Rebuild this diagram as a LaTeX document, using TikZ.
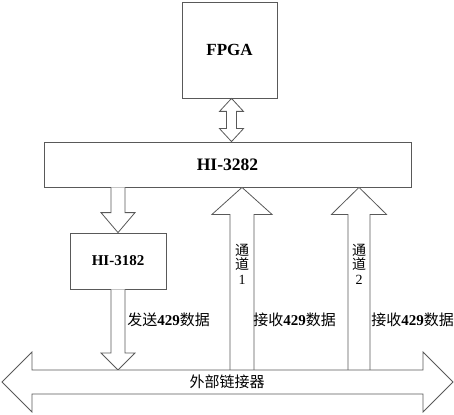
\documentclass[tikz,border=0pt]{standalone}
\usepackage{fontspec}
\setmainfont{Liberation Serif}
\newfontfamily\cjk{Noto Sans CJK SC}
\usetikzlibrary{calc}
\begin{document}
\begin{tikzpicture}[x=1pt,y=-1pt,line width=0.8pt,
  box/.style={draw=black!65,fill=white,inner sep=0pt},
  fat/.style={draw=black!65,fill=white,line join=miter},
  lbl/.style={font=\fontsize{15}{17}\selectfont,inner sep=0pt,anchor=west},
  chl/.style={font=\fontsize{14}{14.5}\selectfont,inner sep=0pt,align=center}]
\useasboundingbox (0,0) rectangle (454,414);
% boxes
\node[box,minimum width=95pt,minimum height=96pt,font=\fontsize{17}{20}\selectfont\bfseries] (fpga) at (229.5,50) {FPGA};
\node[box,minimum width=367pt,minimum height=45pt,font=\fontsize{17.5}{20}\selectfont\bfseries] (h3282) at (227.5,164.5) {HI-3282};
\node[box,minimum width=96pt,minimum height=56pt,font=\fontsize{15}{18}\selectfont\bfseries] (h3182) at (118,261) {HI-3182};
\coordinate (busL) at (2,382);
\coordinate (busR) at (453,382);
\coordinate (busTop) at (227,370);
\coordinate (c1) at (242,264);
\coordinate (c2) at (359,264);
% FPGA <-> HI-3282
\draw[fat] let \p1=(fpga.south), \p2=($(fpga.south|-h3282.north)$) in
  ($(\x1,\y1)+(2,0)$) -- ($(\x1,\y1)+(14,13)$) -- ($(\x1,\y1)+(7,13)$) -- ($(\x2,\y2)+(7,-13)$) -- ($(\x2,\y2)+(14,-13)$) -- ($(\x2,\y2)+(2,0)$)
  -- ($(\x2,\y2)+(-10,-13)$) -- ($(\x2,\y2)+(-3,-13)$) -- ($(\x1,\y1)+(-3,13)$) -- ($(\x1,\y1)+(-10,13)$) -- cycle;
% HI-3282 -> HI-3182
\draw[fat] let \p1=($(h3182.north|-h3282.south)$), \p2=(h3182.north) in
  (\x1-7pt,\y1) -- (\x1-7pt,\y2+20pt) -- (\x1-17pt,\y2+20pt) -- (\x2,\y2) -- (\x1+17pt,\y2+20pt) -- (\x1+7pt,\y2+20pt) -- (\x1+7pt,\y1);
% HI-3182 -> bus
\draw[fat] let \p1=(h3182.south), \p2=($(h3182.south|-busTop)$) in
  (\x1-7pt,\y1) -- (\x1-7pt,\y2+17pt) -- (\x1-17pt,\y2+17pt) -- (\x2,\y2) -- (\x1+17pt,\y2+17pt) -- (\x1+7pt,\y2+17pt) -- (\x1+7pt,\y1);
% bus -> HI-3282 channel 1
\draw[fat] let \p1=($(c1|-busTop)$), \p2=($(c1|-h3282.south)$) in
  (\x1-12pt,\y1) -- (\x1-12pt,\y2-27pt) -- (\x1-30pt,\y2-27pt) -- (\x2,\y2) -- (\x1+30pt,\y2-27pt) -- (\x1+12pt,\y2-27pt) -- (\x1+12pt,\y1);
% bus -> HI-3282 channel 2
\draw[fat] let \p1=($(c2|-busTop)$), \p2=($(c2|-h3282.south)$) in
  (\x1-11pt,\y1) -- (\x1-11pt,\y2-27pt) -- (\x1-27.5pt,\y2-27pt) -- (\x2,\y2) -- (\x1+27.5pt,\y2-27pt) -- (\x1+11pt,\y2-27pt) -- (\x1+11pt,\y1);
\node[chl] (ch1) at (c1) {{\cjk 通}\\{\cjk 道}\\1};
\node[chl] (ch2) at (c2) {{\cjk 通}\\{\cjk 道}\\2};
% bus
\draw[fat] let \p1=(busL), \p2=(busR) in
  (\x1,\y1) -- (\x1+30pt,\y1+30pt) -- (\x1+30pt,\y1+12pt) -- (\x2-30pt,\y1+12pt) -- (\x2-30pt,\y1+30pt) -- (\x2,\y2)
  -- (\x2-30pt,\y1-30pt) -- (\x2-30pt,\y1-12pt) -- (\x1+30pt,\y1-12pt) -- (\x1+30pt,\y1-30pt) -- cycle;
\node[font=\fontsize{15}{17}\selectfont\cjk,inner sep=0pt] (bus) at (227,382) {外部链接器};
% labels
\node[lbl] (l1) at (127,320) {{\cjk 发送}\textbf{429}{\cjk 数据}};
\node[lbl] (l2) at (253,320) {{\cjk 接收}\textbf{429}{\cjk 数据}};
\node[lbl] (l3) at (371,320) {{\cjk 接收}\textbf{429}{\cjk 数据}};
\end{tikzpicture}
\end{document}
